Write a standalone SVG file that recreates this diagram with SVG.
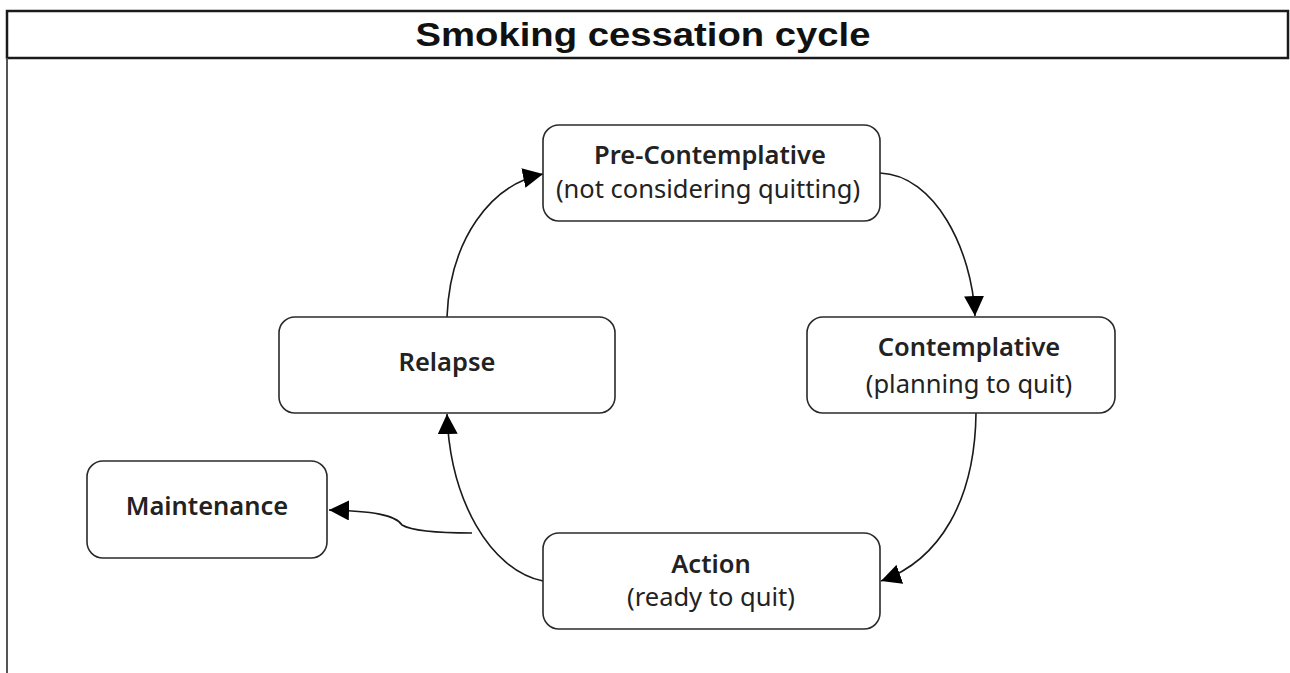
<svg xmlns="http://www.w3.org/2000/svg" width="1290" height="673" viewBox="0 0 1290 673">
<style>
.frame{fill:none;stroke:#1a1a1a;stroke-width:2.5}
.side{fill:none;stroke:#555;stroke-width:2}
.title{font-family:"Liberation Sans",Arial,sans-serif;font-weight:bold;font-size:33px;fill:#111;text-anchor:middle}
.box{fill:#fff;stroke:#2a2a2a;stroke-width:1.6}
.t1{font-family:"Noto Sans","Open Sans",sans-serif;font-weight:600;font-size:25.5px;fill:#222;text-anchor:middle}
.t2{font-family:"Noto Sans","Open Sans",sans-serif;font-weight:normal;font-size:25.5px;fill:#222;text-anchor:middle}
.c{fill:none;stroke:#1a1a1a;stroke-width:1.6}
</style>
<defs>
<marker id="ah" markerUnits="userSpaceOnUse" markerWidth="20" markerHeight="20" refX="20" refY="10" orient="auto">
<path d="M0,0 L20,10 L0,20 z" fill="#000"/>
</marker>
</defs>
<rect width="1290" height="673" fill="#fff"/>
<g id="frame">
<rect class="frame" x="7" y="11" width="1281" height="47"/>
<line class="side" x1="7" y1="58" x2="7" y2="673"/>
<text class="title" x="643" y="46" textLength="455" lengthAdjust="spacingAndGlyphs">Smoking cessation cycle</text>
</g>
<g id="connectors">
<path class="c" d="M880,173 C935,175 972,250 975,316" marker-end="url(#ah)"/>
<path class="c" d="M976,413 C975,500 940,560 881,581" marker-end="url(#ah)"/>
<path class="c" d="M543,581 C490,570 450,500 447,414" marker-end="url(#ah)"/>
<path class="c" d="M447,317 C450,240 490,185 543,174" marker-end="url(#ah)"/>
<path class="c" d="M472,533 C440,533 412,531 402,525 C396,515 372,511 329,510" marker-end="url(#ah)"/>
</g>
<g id="pre-contemplative">
<rect class="box" x="543" y="125" width="337" height="96" rx="16"/>
<text class="t1" x="710" y="164">Pre-Contemplative</text>
<text class="t2" x="708" y="198">(not considering quitting)</text>
</g>
<g id="contemplative">
<rect class="box" x="807" y="317" width="308" height="96" rx="16"/>
<text class="t1" x="969" y="356">Contemplative</text>
<text class="t2" x="969" y="393">(planning to quit)</text>
</g>
<g id="relapse">
<rect class="box" x="279" y="317" width="336" height="96" rx="16"/>
<text class="t1" x="447" y="371">Relapse</text>
</g>
<g id="maintenance">
<rect class="box" x="87" y="461" width="240" height="97" rx="16"/>
<text class="t1" x="207" y="515">Maintenance</text>
</g>
<g id="action">
<rect class="box" x="543" y="533" width="337" height="96" rx="16"/>
<text class="t1" x="711" y="573">Action</text>
<text class="t2" x="711" y="606">(ready to quit)</text>
</g>
</svg>
